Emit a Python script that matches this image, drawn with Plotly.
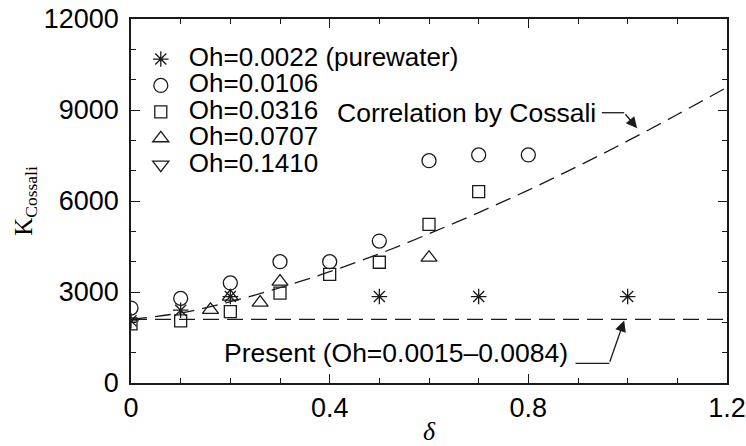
import plotly.graph_objects as go

# ---- data ----
delta_w = [0.0, 0.1, 0.2, 0.5, 0.7, 1.0]            # Oh=0.0022 (pure water)
k_w = [2050, 2400, 2850, 2850, 2850, 2850]

delta_a = [0.0, 0.1, 0.2, 0.3, 0.4, 0.5, 0.6, 0.7, 0.8]   # Oh=0.0106
k_a = [2470, 2790, 3300, 4000, 4000, 4680, 7330, 7520, 7520]

delta_b = [0.0, 0.1, 0.2, 0.3, 0.4, 0.5, 0.6, 0.7]        # Oh=0.0316
k_b = [1950, 2050, 2350, 2960, 3580, 3980, 5230, 6310]

delta_c = [0.16, 0.2, 0.26, 0.3, 0.6]                     # Oh=0.0707
k_c = [2410, 2850, 2650, 3340, 4130]

delta_d = [None]                                          # Oh=0.1410 (no visible point)
k_d = [None]

# Correlation by Cossali (dashed curve)
delta_cos = [0.0, 0.1, 0.2, 0.3, 0.4, 0.5, 0.6, 0.7, 0.8, 0.9, 1.0, 1.1, 1.2]
k_cos = [2100, 2310, 2680, 3140, 3670, 4260, 4920, 5620, 6360, 7150, 7980, 8850, 9750]

# Present (horizontal dashed line)
delta_pre = [0.0, 1.2]
k_pre = [2100, 2100]

names = ["Oh=0.0022 (purewater)", "Oh=0.0106", "Oh=0.0316", "Oh=0.0707", "Oh=0.1410"]
x_ticks = [0, 0.4, 0.8, 1.2]
x_ticktext = ["0", "0.4", "0.8", "1.2"]
y_ticks = [0, 3000, 6000, 9000, 12000]
y_ticktext = ["0", "3000", "6000", "9000", "12000"]

SANS = "Liberation Sans, Arial, sans-serif"
SERIF = "Liberation Serif, Times New Roman, serif"
INK = "#1a1a1a"

fig = go.Figure()

fig.add_trace(go.Scatter(x=delta_cos, y=k_cos, mode="lines", showlegend=False,
                         line=dict(color=INK, width=1.3, dash="16px,8px", shape="spline")))
fig.add_trace(go.Scatter(x=delta_pre, y=k_pre, mode="lines", showlegend=False,
                         line=dict(color=INK, width=1.3, dash="16px,8px")))

series = [
    (delta_w, k_w, "asterisk-open", 13),
    (delta_a, k_a, "circle-open", 14),
    (delta_b, k_b, "square-open", 12),
    (delta_c, k_c, "triangle-up-open", 14),
    (delta_d, k_d, "triangle-down-open", 14),
]
for (xs, ys, sym, sz), nm in zip(series, names):
    fig.add_trace(go.Scatter(
        x=xs, y=ys, mode="markers",
        name='<span style="font-size:26px">' + nm + '</span>',
        marker=dict(symbol=sym, size=sz, color=INK,
                    line=dict(color=INK, width=1.3)),
    ))

# annotation: Correlation by Cossali
fig.add_annotation(x=0.676, y=8900, xref="x", yref="y", text="Correlation by Cossali",
                   showarrow=False, font=dict(family=SANS, size=26.5, color="black"))
fig.add_shape(type="line", xref="x", yref="y", x0=0.948, y0=8910, x1=0.993, y1=8910,
              line=dict(color=INK, width=1.3))
fig.add_annotation(x=1.019, y=8400, ax=0.993, ay=8910, xref="x", yref="y",
                   axref="x", ayref="y", text="", showarrow=True,
                   arrowhead=2, arrowsize=1.7, arrowwidth=1.3, arrowcolor=INK)

# annotation: Present
fig.add_annotation(x=0.534, y=980, xref="x", yref="y",
                   text="Present (Oh=0.0015\u20130.0084)",
                   showarrow=False, font=dict(family=SANS, size=26.5, color="black"))
fig.add_shape(type="line", xref="x", yref="y", x0=0.895, y0=650, x1=0.963, y1=650,
              line=dict(color=INK, width=1.3))
fig.add_annotation(x=0.993, y=2060, ax=0.963, ay=650, xref="x", yref="y",
                   axref="x", ayref="y", text="", showarrow=True,
                   arrowhead=2, arrowsize=1.7, arrowwidth=1.3, arrowcolor=INK)

axis_common = dict(
    showline=True, linecolor=INK, linewidth=1.5, mirror="ticks",
    ticks="inside", ticklen=9, tickwidth=1.3, tickcolor=INK,
    showgrid=False, zeroline=False, automargin=False,
    tickfont=dict(family=SANS, size=27, color="black"),
)

fig.update_xaxes(range=[0, 1.2], tickvals=x_ticks, ticktext=x_ticktext,
                 minor=dict(dtick=0.1, ticks="inside", ticklen=5, tickwidth=1.3, tickcolor=INK),
                 title=dict(text="<i>\u03b4</i>", font=dict(family=SERIF, size=26, color="black"),
                            standoff=12),
                 ticklabelstandoff=0,
                 **axis_common)
fig.update_yaxes(range=[0, 12000], tickvals=y_ticks, ticktext=y_ticktext,
                 minor=dict(dtick=1000, ticks="inside", ticklen=5, tickwidth=1.3, tickcolor=INK),
                 title=dict(text="K<sub>Cossali</sub>", font=dict(family=SERIF, size=25, color="black"),
                            standoff=4),
                 ticklabelstandoff=5,
                 **axis_common)

fig.update_layout(
    width=746, height=446,
    margin=dict(l=131, r=19, t=19, b=63, autoexpand=False),
    paper_bgcolor="white", plot_bgcolor="white",
    legend=dict(x=0.003, y=0.94, xanchor="left", yanchor="top",
                font=dict(family=SANS, size=18, color="black"),
                bgcolor="rgba(0,0,0,0)", itemwidth=46, tracegroupgap=0),
)

fig.write_html("out.html")
